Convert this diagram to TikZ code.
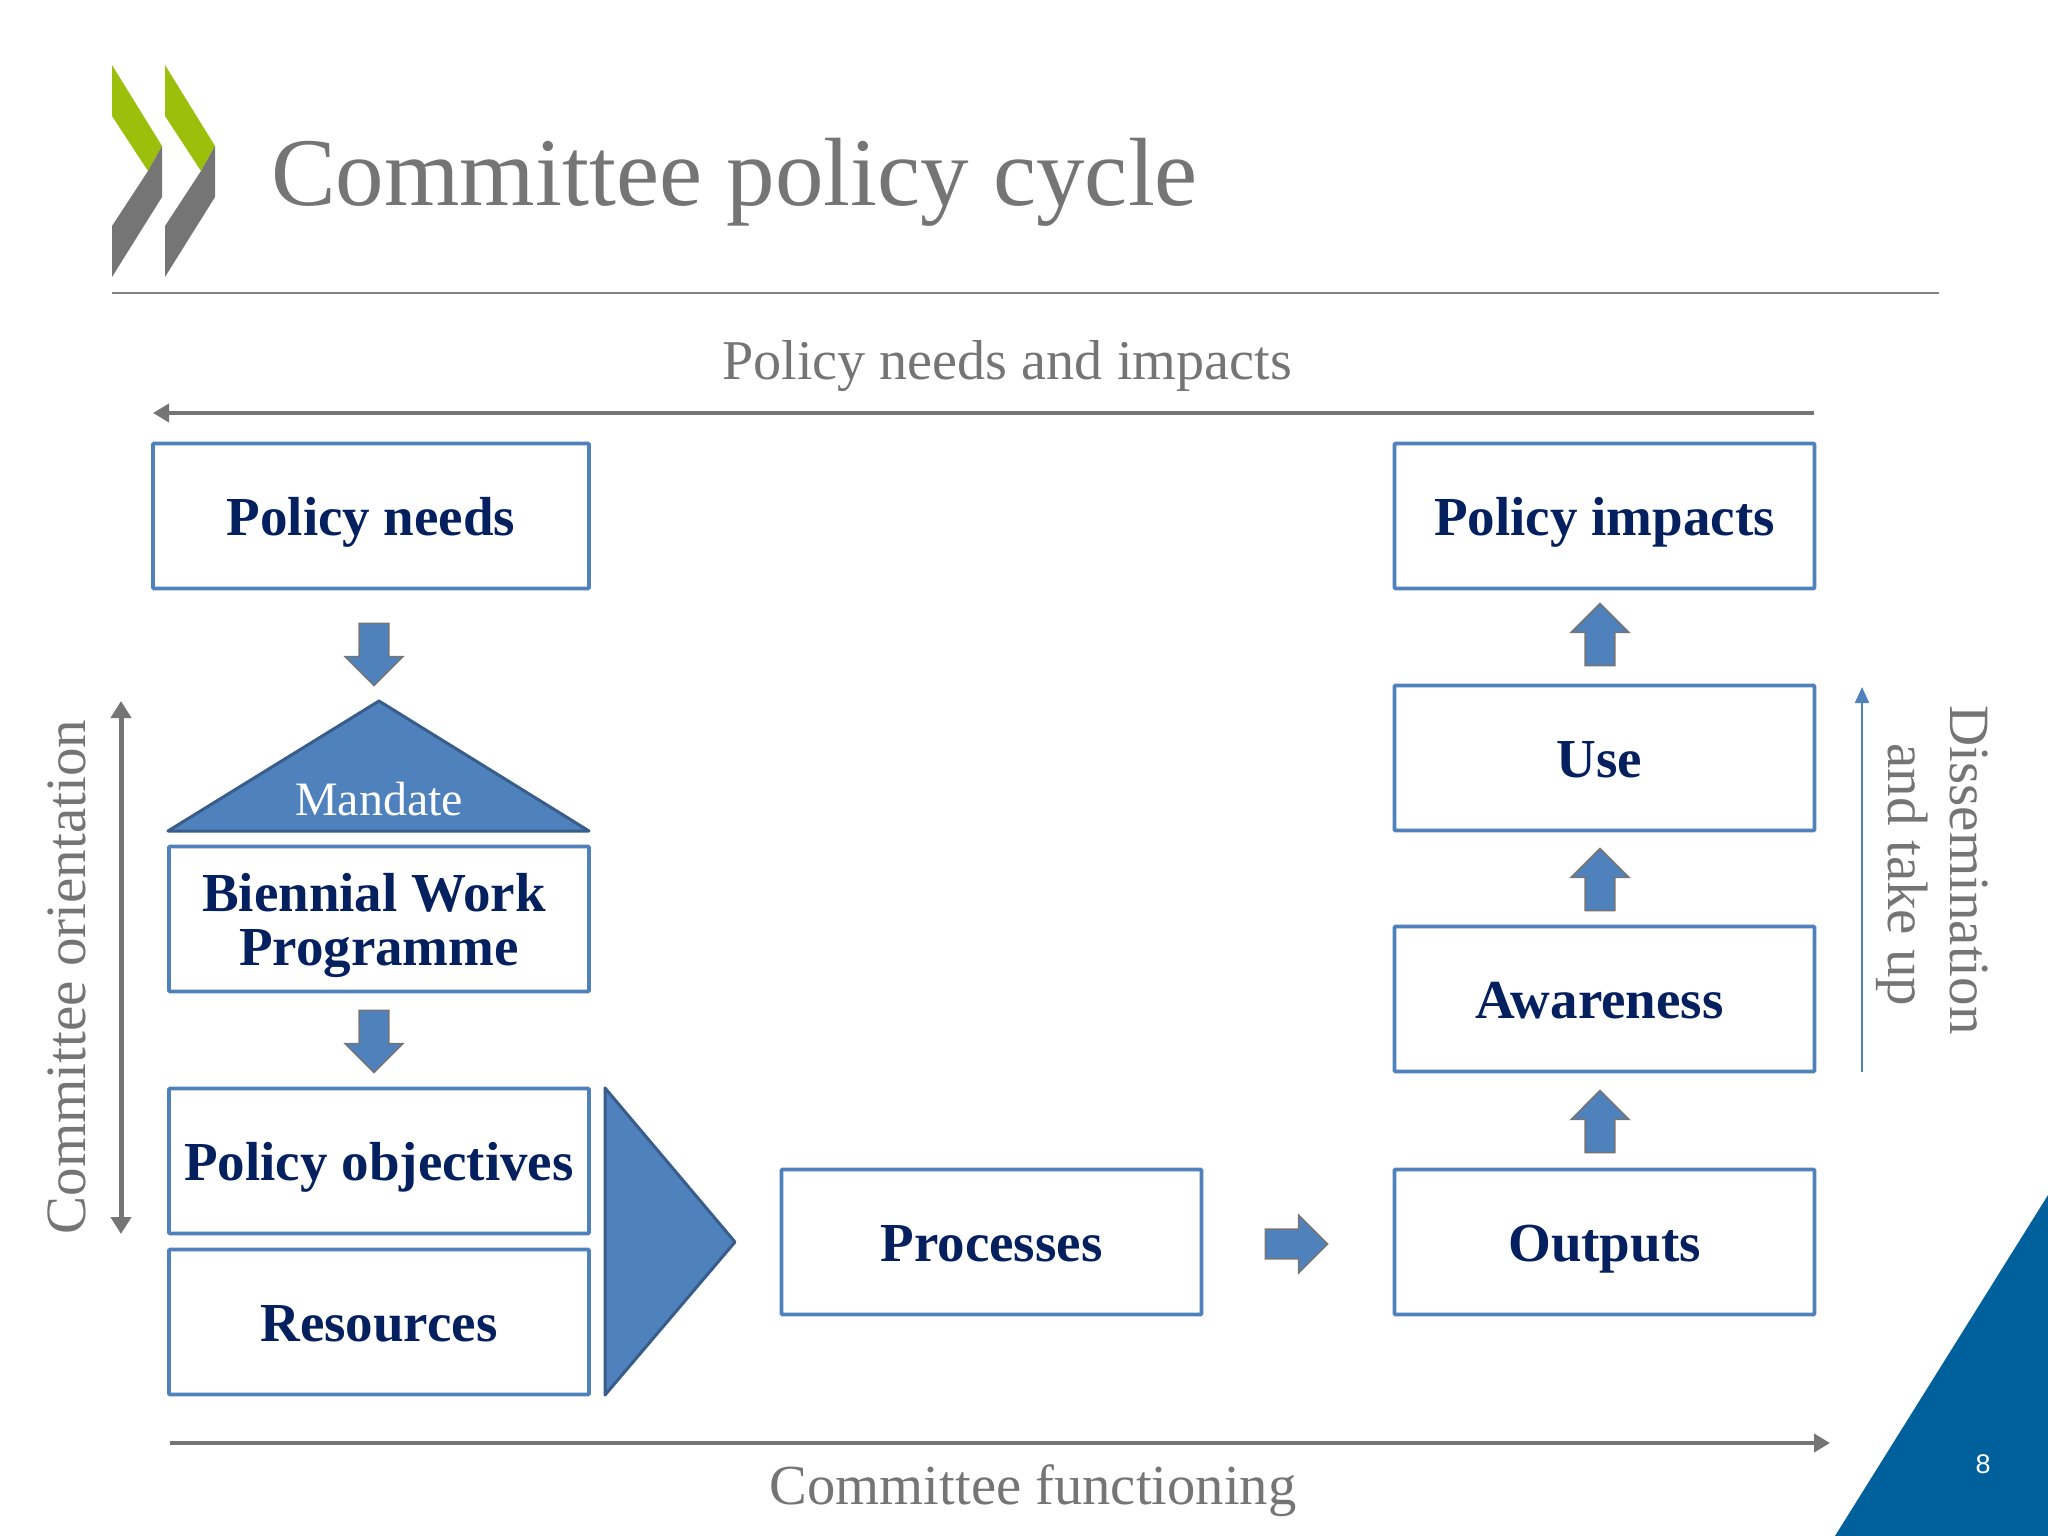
\documentclass[tikz,border=0pt]{standalone}
\usepackage{fontspec}
\setmainfont{Liberation Serif}
\newfontfamily\numfont{Liberation Sans}
\usetikzlibrary{shapes.arrows,arrows.meta}
\definecolor{cblue}{HTML}{4F81BD}
\definecolor{cedge}{HTML}{385D8A}
\definecolor{cnavy}{HTML}{04205F}
\definecolor{cgrey}{HTML}{757575}
\definecolor{cgreen}{HTML}{9BBF0A}
\definecolor{ccorner}{HTML}{00609C}
\tikzset{
 box/.style={draw=cblue,line width=3.6pt,fill=white,inner sep=0pt,align=center,text=cnavy,
   font=\fontsize{55}{55}\selectfont\bfseries,rounded corners=1pt,minimum height=145pt},
 wide/.style={box,minimum width=420pt},
 oneline/.style={text height=44pt,text depth=5pt},
 lab/.style={text=cgrey,font=\fontsize{56.2}{56.2}\selectfont,inner sep=0pt},
 sidelab/.style={lab,font=\fontsize{57}{57}\selectfont},
 blockarrow/.style={single arrow,draw=cgrey,line width=1.6pt,fill=cblue,minimum width=56pt,minimum height=62pt,
   single arrow head extend=14pt,inner sep=0pt,text height=28pt,text depth=0pt},
 longarrow/.style={draw=cgrey,line width=4pt,-{Triangle[length=16pt,width=18pt]}},
 tri/.style={fill=cblue,draw=cedge,line width=3pt,line join=round},
}
\begin{document}
\begin{tikzpicture}[x=1pt,y=-1pt]
\useasboundingbox (0,0) rectangle (2048,1536);
% logo
\foreach \d in {0,53}{
 \fill[cgreen,xshift=\d pt] (112,65) -- (162,146) -- (148,171) -- (112,116) -- cycle;
 \fill[cgrey,xshift=\d pt] (162,146) -- (162,197) -- (112,277) -- (112,226) -- (148,171) -- cycle;
}
\node[anchor=base west,text=cgrey,font=\fontsize{97}{97}\selectfont,inner sep=0pt] (title) at (271,205) {Committee policy cycle};
\coordinate (ruleL) at (112,292.5);
\coordinate (ruleR) at (1939,292.5);
\draw[cgrey!90,line width=2pt] (ruleL) -- (ruleR);
% corner
\fill[ccorner] (1835,1536) -- (2048,1195) -- (2048,1536) -- cycle;
\node[text=white,font=\numfont\fontsize{27}{27}\selectfont,inner sep=0pt] (pagenum) at (1983,1464) {8};
% top
\node[lab,anchor=base] (top) at (1007,379) {Policy needs and impacts};
\coordinate (topR) at (1814,413);
\coordinate (topL) at (153,413);
\draw[longarrow] (topR) -- (topL);
% boxes
\node[box,oneline,minimum width=436pt] (needs) at (371,516) {Policy needs};
\node[wide,oneline] (impacts) at (1604.5,516) {Policy impacts};
\node[wide,oneline] (use) at (1604.5,758) {Use\kern10pt};
\node[wide,oneline] (aware) at (1604.5,999) {Awareness\kern10pt};
\node[wide,oneline] (outputs) at (1604.5,1242) {Outputs};
\node[wide,oneline] (proc) at (991.5,1242) {Processes};
\node[wide] (bwp) at (379,919) {\rule{0pt}{51pt}Biennial Work\kern10pt\\[-0.5pt]Programme};
\node[wide,oneline] (obj) at (379,1161) {Policy objectives};
\node[wide,oneline] (res) at (379,1322) {Resources};
% triangles
\coordinate (mA) at (379,701);
\coordinate (mL) at (168,831);
\coordinate (mR) at (589,831);
\draw[tri] (mA) -- (mR) -- (mL) -- cycle;
\node[text=white,font=\fontsize{48}{48}\selectfont,inner sep=0pt] (mandate) at (379,799) {Mandate};
\coordinate (pA) at (605,1088);
\coordinate (pB) at (605,1395);
\coordinate (pC) at (735,1242);
\draw[tri] (pA) -- (pC) -- (pB) -- cycle;
% block arrows
\node[blockarrow,rotate=-90] (a1) at (374,647) {};
\node[blockarrow,rotate=-90] (a2) at (374,1034) {};
\node[blockarrow,rotate=90] (a3) at (1600,642) {};
\node[blockarrow,rotate=90] (a4) at (1600,887) {};
\node[blockarrow,rotate=90] (a5) at (1600,1129) {};
\node[blockarrow] (a6) at (1289,1244) {};
% side
\coordinate (lT) at (121,701);
\coordinate (lB) at (121,1234);
\draw[draw=cgrey,line width=5pt,{Triangle[length=17pt,width=20pt]}-{Triangle[length=17pt,width=20pt]}] (lT) -- (lB);
\node[sidelab,rotate=90,anchor=base] (orient) at (85,977) {Committee orientation};
\coordinate (bL) at (170,1443);
\coordinate (bR) at (1830,1443);
\draw[longarrow] (bL) -- (bR);
\node[sidelab,anchor=base,font=\fontsize{56.6}{56.6}\selectfont] (func) at (1033,1504) {Committee functioning};
\coordinate (rB) at (1862,1072);
\coordinate (rT) at (1862,687);
\draw[draw=cblue,line width=2pt,-{Triangle[length=16pt,width=14pt]}] (rB) -- (rT);
\node[sidelab,rotate=-90,anchor=base] (diss) at (1950,870) {Dissemination};
\node[sidelab,rotate=-90,anchor=base] (take) at (1888,875) {and take up};
\end{tikzpicture}
\end{document}
